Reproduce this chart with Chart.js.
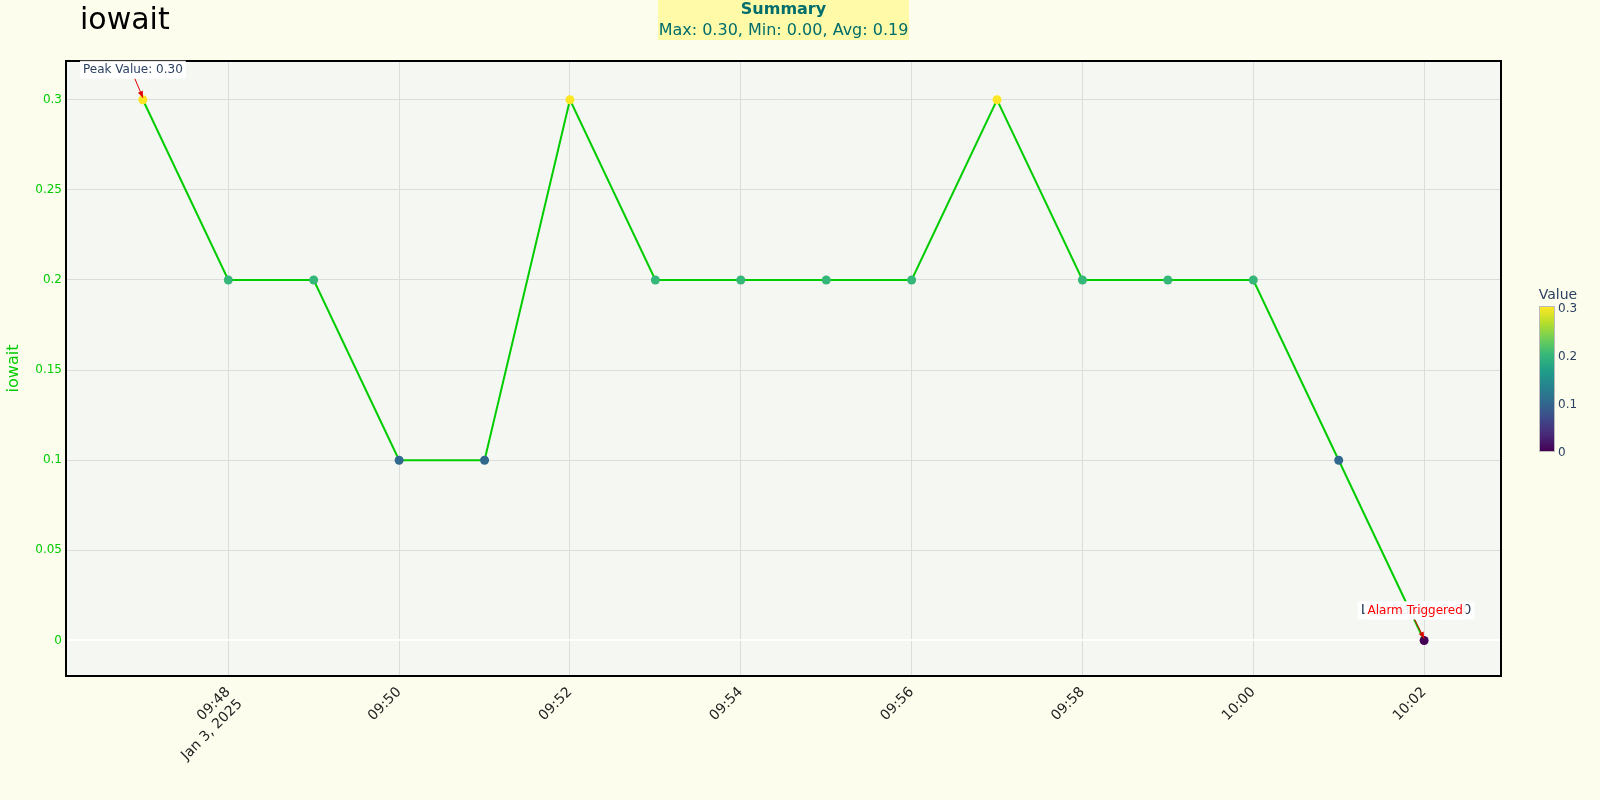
<!DOCTYPE html>
<html>
<head>
<meta charset="utf-8">
<title>iowait</title>
<script src="https://cdn.jsdelivr.net/npm/chart.js@4/dist/chart.umd.min.js"></script>
<style>
  html, body { margin: 0; padding: 0; background: #fdfdee; }
  #wrap { width: 1600px; height: 800px; position: relative; }
</style>
</head>
<body>
<div id="wrap"><canvas id="myChart" width="1600" height="800"></canvas></div>
<script>
// Data
const times = ['09:47', '09:48', '09:49', '09:50', '09:51', '09:52', '09:53', '09:54',
               '09:55', '09:56', '09:57', '09:58', '09:59', '10:00', '10:01', '10:02'];
const values = [0.3, 0.2, 0.2, 0.1, 0.1, 0.3, 0.2, 0.2, 0.2, 0.2, 0.3, 0.2, 0.2, 0.2, 0.1, 0.0];
const xTickLabels = ['09:48', '09:50', '09:52', '09:54', '09:56', '09:58', '10:00', '10:02'];
const dateLabel = 'Jan 3, 2025';
const colorbarTicks = [0, 0.1, 0.2, 0.3];

const toMin = t => { const [h, m] = t.split(':').map(Number); return h * 60 + m; };
const base = toMin(times[0]);
const points = times.map((t, i) => ({ x: toMin(t) - base, y: values[i] }));
const tickPositions = xTickLabels.map(t => toMin(t) - base);

// viridis colour scale
const viridis = ['#440154', '#482878', '#3e4989', '#31688e', '#26828e',
                 '#1f9e89', '#35b779', '#6ece58', '#b5de2b', '#fde725'];
function hexRgb(h) { return [1, 3, 5].map(i => parseInt(h.substr(i, 2), 16)); }
function viridisAt(v, cmin, cmax) {
    let f = Math.max(0, Math.min(1, (v - cmin) / (cmax - cmin))) * (viridis.length - 1);
    const i = Math.min(Math.floor(f), viridis.length - 2);
    const t = f - i;
    const a = hexRgb(viridis[i]), b = hexRgb(viridis[i + 1]);
    return 'rgb(' + a.map((c, k) => Math.round(c + (b[k] - c) * t)).join(',') + ')';
}
const cmin = Math.min(...values), cmax = Math.max(...values);
const pointColors = values.map(v => viridisAt(v, cmin, cmax));

const FONT = '"DejaVu Sans", "Open Sans", sans-serif';
const GREEN = '#00cc00';

function arrow(ctx, x1, y1, x2, y2, color) {
    ctx.save();
    ctx.strokeStyle = color;
    ctx.fillStyle = color;
    ctx.lineWidth = 1;
    ctx.beginPath();
    ctx.moveTo(x1, y1);
    ctx.lineTo(x2, y2);
    ctx.stroke();
    const ang = Math.atan2(y2 - y1, x2 - x1);
    ctx.beginPath();
    ctx.moveTo(x2, y2);
    ctx.lineTo(x2 - 7 * Math.cos(ang - 0.4), y2 - 7 * Math.sin(ang - 0.4));
    ctx.lineTo(x2 - 7 * Math.cos(ang + 0.4), y2 - 7 * Math.sin(ang + 0.4));
    ctx.closePath();
    ctx.fill();
    ctx.restore();
}

function labelBox(ctx, text, cx, cy, color, size) {
    ctx.save();
    ctx.font = (size || 12) + 'px ' + FONT;
    const w = ctx.measureText(text).width + 6;
    ctx.fillStyle = 'rgba(255,255,255,0.9)';
    ctx.fillRect(cx - w / 2, cy - 9, w, 18);
    ctx.fillStyle = color;
    ctx.textAlign = 'center';
    ctx.textBaseline = 'middle';
    ctx.fillText(text, cx, cy);
    ctx.restore();
}

const decorations = {
    id: 'decorations',
    beforeDraw(chart) {
        const { ctx, chartArea: a } = chart;
        ctx.save();
        ctx.fillStyle = '#fdfdee';
        ctx.fillRect(0, 0, chart.width, chart.height);
        ctx.fillStyle = '#f5f8f2';
        ctx.fillRect(a.left, a.top, a.right - a.left, a.bottom - a.top);
        ctx.restore();
    },
    afterDatasetsDraw(chart) {
        const { ctx, chartArea: a, scales: { x, y } } = chart;
        // plot frame
        ctx.save();
        ctx.strokeStyle = '#000';
        ctx.lineWidth = 2;
        ctx.strokeRect(a.left, a.top, a.right - a.left, a.bottom - a.top);
        ctx.restore();

        // peak annotation
        const iMax = values.indexOf(cmax);
        const px = x.getPixelForValue(points[iMax].x), py = y.getPixelForValue(cmax);
        labelBox(ctx, 'Peak Value: ' + cmax.toFixed(2), px - 10, py - 30, '#2a3f5f');
        arrow(ctx, px - 8, py - 21, px, py - 2, '#e00000');

        // low / alarm annotation
        const iMin = values.lastIndexOf(cmin);
        const lx = x.getPixelForValue(points[iMin].x), ly = y.getPixelForValue(cmin);
        labelBox(ctx, 'Low Value: ' + cmin.toFixed(2), lx - 8, ly - 30, '#2a3f5f', 14);
        arrow(ctx, lx - 11, ly - 24, lx, ly - 2, '#e00000');
        labelBox(ctx, 'Alarm Triggered', lx - 9, ly - 30, '#ff0000');
    },
    afterDraw(chart) {
        const { ctx } = chart;
        ctx.save();
        // title
        ctx.fillStyle = '#000';
        ctx.font = '30px ' + FONT;
        ctx.textBaseline = 'middle';
        ctx.fillText('iowait', 80, 21);

        // summary box
        const avg = values.reduce((s, v) => s + v, 0) / values.length;
        ctx.fillStyle = '#fffaa8';
        ctx.fillRect(658, 0, 251, 40);
        ctx.fillStyle = '#006d6d';
        ctx.textAlign = 'center';
        ctx.font = 'bold 16px ' + FONT;
        ctx.fillText('Summary', 783.5, 10);
        ctx.font = '16px ' + FONT;
        ctx.fillText('Max: ' + cmax.toFixed(2) + ', Min: ' + cmin.toFixed(2) + ', Avg: ' + avg.toFixed(2), 783.5, 31);

        // colorbar
        const cbL = 1540, cbW = 14, cbT = 307, cbB = 451;
        const g = ctx.createLinearGradient(0, cbB, 0, cbT);
        viridis.forEach((c, i) => g.addColorStop(i / (viridis.length - 1), c));
        ctx.fillStyle = g;
        ctx.fillRect(cbL, cbT, cbW, cbB - cbT);
        ctx.strokeStyle = '#bbb';
        ctx.lineWidth = 1;
        ctx.strokeRect(cbL - 0.5, cbT - 0.5, cbW + 1, cbB - cbT + 1);
        ctx.fillStyle = '#2a3f5f';
        ctx.font = '12px ' + FONT;
        ctx.textAlign = 'left';
        colorbarTicks.forEach(v => {
            const yy = cbB - (v - cmin) / (cmax - cmin) * (cbB - cbT);
            ctx.fillText(String(v), cbL + 18, yy + 1.5);
        });
        ctx.font = '14px ' + FONT;
        ctx.textAlign = 'center';
        ctx.fillText('Value', 1558, 295);
        ctx.restore();
    }
};

const ctx = document.getElementById('myChart').getContext('2d');
new Chart(ctx, {
    type: 'line',
    data: {
        datasets: [{
            label: 'iowait',
            data: points,
            borderColor: GREEN,
            borderWidth: 2,
            tension: 0,
            fill: false,
            pointRadius: 4.5,
            pointHoverRadius: 4.5,
            pointBorderWidth: 0,
            pointBackgroundColor: pointColors,
            pointBorderColor: pointColors
        }]
    },
    options: {
        responsive: false,
        animation: false,
        layout: { padding: { top: 61, right: 99, left: 0, bottom: 0 } },
        plugins: {
            legend: { display: false },
            tooltip: { enabled: false }
        },
        scales: {
            x: {
                type: 'linear',
                min: -0.9,
                max: 15.9,
                afterBuildTicks: scale => { scale.ticks = tickPositions.map(v => ({ value: v })); },
                afterFit: scale => { scale.height = 124; },
                grid: { color: '#dcdcdc', lineWidth: 1, drawTicks: false },
                border: { display: false },
                ticks: {
                    autoSkip: false,
                    minRotation: 45,
                    maxRotation: 45,
                    padding: 8,
                    color: '#222',
                    font: { family: FONT, size: 14 },
                    callback: (v, i) => i === 0 ? [xTickLabels[i], dateLabel] : xTickLabels[i]
                }
            },
            y: {
                min: -0.0197,
                max: 0.3215,
                afterFit: scale => { scale.width = 66; },
                grid: {
                    drawTicks: false,
                    color: c => c.tick && c.tick.value === 0 ? '#ffffff' : '#dcdcdc',
                    lineWidth: c => c.tick && c.tick.value === 0 ? 2 : 1
                },
                border: { display: false },
                title: {
                    display: true,
                    text: 'iowait',
                    color: GREEN,
                    font: { family: FONT, size: 16 },
                    padding: { top: 4, bottom: 0 }
                },
                ticks: {
                    stepSize: 0.05,
                    includeBounds: false,
                    padding: 4,
                    color: GREEN,
                    font: { family: FONT, size: 12 },
                    callback: v => String(+v.toFixed(2))
                }
            }
        }
    },
    plugins: [decorations]
});
</script>
</body>
</html>
